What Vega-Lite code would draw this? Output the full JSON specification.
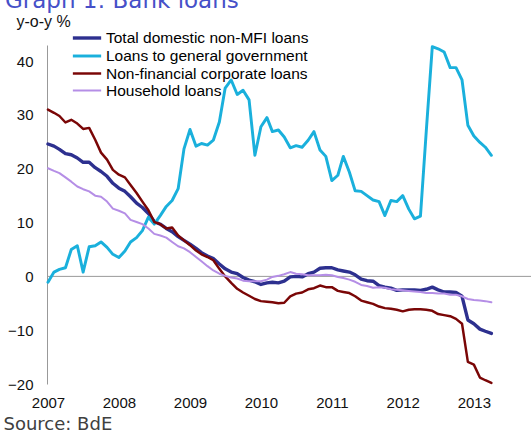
{
  "$schema": "https://vega.github.io/schema/vega-lite/v6.json",
  "width": 484,
  "height": 339,
  "autosize": "none",
  "padding": {"left": 47, "top": 45, "right": 1, "bottom": 49},
  "background": "white",
  "title": {"text": "Graph 1: Bank loans", "anchor": "start", "frame": "group", "dx": -42, "dy": 21, "offset": 3, "baseline": "alphabetic", "fontSize": 23, "font": "DejaVu Sans", "fontWeight": "normal", "color": "#4650C8"},
  "config": {"view": {"stroke": null}},
  "layer": [
    {
      "data": {"values": [{"z": 0}]},
      "mark": {"type": "rule", "color": "#999999", "strokeWidth": 1},
      "encoding": {"y": {"field": "z", "type": "quantitative", "scale": {"domain": [-20, 43], "nice": false}}}
    },
    {
      "data": {"values": [
        {"d":"2007-01-01","tot":24.6,"gov":-1.1,"nfc":31.0,"hh":20.1},
        {"d":"2007-02-01","tot":24.2,"gov":0.8,"nfc":30.4,"hh":19.6},
        {"d":"2007-03-01","tot":23.6,"gov":1.3,"nfc":29.8,"hh":19.2},
        {"d":"2007-04-01","tot":22.8,"gov":1.6,"nfc":28.6,"hh":18.4},
        {"d":"2007-05-01","tot":22.6,"gov":5.0,"nfc":29.1,"hh":17.6},
        {"d":"2007-06-01","tot":22.0,"gov":5.7,"nfc":28.4,"hh":16.7},
        {"d":"2007-07-01","tot":21.2,"gov":0.8,"nfc":27.4,"hh":16.2},
        {"d":"2007-08-01","tot":21.2,"gov":5.5,"nfc":27.6,"hh":15.8},
        {"d":"2007-09-01","tot":20.2,"gov":5.7,"nfc":25.4,"hh":15.0},
        {"d":"2007-10-01","tot":19.5,"gov":6.4,"nfc":23.0,"hh":14.8},
        {"d":"2007-11-01","tot":18.6,"gov":5.4,"nfc":21.7,"hh":13.9},
        {"d":"2007-12-01","tot":17.3,"gov":4.1,"nfc":19.8,"hh":12.6},
        {"d":"2008-01-01","tot":16.4,"gov":3.5,"nfc":18.9,"hh":12.2},
        {"d":"2008-02-01","tot":15.8,"gov":4.7,"nfc":18.4,"hh":11.7},
        {"d":"2008-03-01","tot":14.8,"gov":6.4,"nfc":17.0,"hh":10.5},
        {"d":"2008-04-01","tot":13.6,"gov":7.2,"nfc":15.5,"hh":10.1},
        {"d":"2008-05-01","tot":12.8,"gov":8.5,"nfc":13.9,"hh":9.7},
        {"d":"2008-06-01","tot":11.7,"gov":11.0,"nfc":12.3,"hh":8.9},
        {"d":"2008-07-01","tot":10.2,"gov":9.7,"nfc":10.1,"hh":7.9},
        {"d":"2008-08-01","tot":9.7,"gov":11.3,"nfc":9.7,"hh":7.6},
        {"d":"2008-09-01","tot":8.9,"gov":13.0,"nfc":8.9,"hh":7.2},
        {"d":"2008-10-01","tot":8.3,"gov":14.1,"nfc":9.1,"hh":6.4},
        {"d":"2008-11-01","tot":7.4,"gov":16.3,"nfc":7.6,"hh":5.6},
        {"d":"2008-12-01","tot":6.7,"gov":23.7,"nfc":6.7,"hh":5.2},
        {"d":"2009-01-01","tot":6.0,"gov":27.3,"nfc":5.8,"hh":4.5},
        {"d":"2009-02-01","tot":5.2,"gov":24.2,"nfc":4.8,"hh":3.6},
        {"d":"2009-03-01","tot":4.4,"gov":24.7,"nfc":4.1,"hh":2.8},
        {"d":"2009-04-01","tot":3.8,"gov":24.4,"nfc":3.6,"hh":1.9},
        {"d":"2009-05-01","tot":3.3,"gov":25.3,"nfc":3.0,"hh":1.1},
        {"d":"2009-06-01","tot":2.3,"gov":28.7,"nfc":1.4,"hh":0.5},
        {"d":"2009-07-01","tot":1.4,"gov":35.0,"nfc":0.0,"hh":0.1},
        {"d":"2009-08-01","tot":0.8,"gov":36.5,"nfc":-1.2,"hh":-0.2},
        {"d":"2009-09-01","tot":0.5,"gov":33.8,"nfc":-2.3,"hh":-0.4},
        {"d":"2009-10-01","tot":-0.2,"gov":34.6,"nfc":-3.0,"hh":-0.8},
        {"d":"2009-11-01","tot":-0.7,"gov":32.8,"nfc":-3.6,"hh":-0.9},
        {"d":"2009-12-01","tot":-1.0,"gov":22.5,"nfc":-4.2,"hh":-0.9},
        {"d":"2010-01-01","tot":-1.5,"gov":27.8,"nfc":-4.6,"hh":-0.9},
        {"d":"2010-02-01","tot":-1.2,"gov":29.5,"nfc":-4.7,"hh":-0.6},
        {"d":"2010-03-01","tot":-1.1,"gov":26.9,"nfc":-4.8,"hh":-0.1},
        {"d":"2010-04-01","tot":-1.2,"gov":27.2,"nfc":-5.0,"hh":0.1},
        {"d":"2010-05-01","tot":-0.9,"gov":25.9,"nfc":-4.9,"hh":0.4},
        {"d":"2010-06-01","tot":-0.1,"gov":23.9,"nfc":-3.7,"hh":0.8},
        {"d":"2010-07-01","tot":0.0,"gov":24.3,"nfc":-3.2,"hh":0.5},
        {"d":"2010-08-01","tot":-0.1,"gov":24.0,"nfc":-3.0,"hh":0.4},
        {"d":"2010-09-01","tot":0.5,"gov":25.3,"nfc":-2.4,"hh":0.2},
        {"d":"2010-10-01","tot":0.8,"gov":26.9,"nfc":-2.2,"hh":0.2},
        {"d":"2010-11-01","tot":1.5,"gov":23.5,"nfc":-1.7,"hh":0.2},
        {"d":"2010-12-01","tot":1.6,"gov":22.3,"nfc":-2.0,"hh":0.3},
        {"d":"2011-01-01","tot":1.6,"gov":17.8,"nfc":-2.0,"hh":0.2},
        {"d":"2011-02-01","tot":1.2,"gov":18.8,"nfc":-2.7,"hh":-0.1},
        {"d":"2011-03-01","tot":1.0,"gov":22.3,"nfc":-2.9,"hh":-0.3},
        {"d":"2011-04-01","tot":0.8,"gov":19.4,"nfc":-3.1,"hh":-0.6},
        {"d":"2011-05-01","tot":0.3,"gov":15.9,"nfc":-3.7,"hh":-1.0},
        {"d":"2011-06-01","tot":-0.5,"gov":15.8,"nfc":-4.5,"hh":-1.6},
        {"d":"2011-07-01","tot":-0.8,"gov":15.0,"nfc":-4.8,"hh":-1.8},
        {"d":"2011-08-01","tot":-0.9,"gov":14.2,"nfc":-5.1,"hh":-2.1},
        {"d":"2011-09-01","tot":-1.7,"gov":13.9,"nfc":-5.6,"hh":-2.0},
        {"d":"2011-10-01","tot":-2.0,"gov":11.3,"nfc":-5.9,"hh":-2.1},
        {"d":"2011-11-01","tot":-2.2,"gov":14.1,"nfc":-6.0,"hh":-2.4},
        {"d":"2011-12-01","tot":-2.6,"gov":13.9,"nfc":-6.2,"hh":-2.5},
        {"d":"2012-01-01","tot":-2.5,"gov":15.0,"nfc":-6.5,"hh":-2.6},
        {"d":"2012-02-01","tot":-2.5,"gov":12.5,"nfc":-6.2,"hh":-2.7},
        {"d":"2012-03-01","tot":-2.5,"gov":10.7,"nfc":-6.1,"hh":-2.8},
        {"d":"2012-04-01","tot":-2.6,"gov":11.2,"nfc":-6.1,"hh":-2.9},
        {"d":"2012-05-01","tot":-2.4,"gov":27.0,"nfc":-6.2,"hh":-3.1},
        {"d":"2012-06-01","tot":-2.0,"gov":42.7,"nfc":-6.4,"hh":-3.1},
        {"d":"2012-07-01","tot":-2.5,"gov":42.3,"nfc":-7.0,"hh":-3.2},
        {"d":"2012-08-01","tot":-2.9,"gov":41.7,"nfc":-7.2,"hh":-3.2},
        {"d":"2012-09-01","tot":-2.9,"gov":38.8,"nfc":-7.4,"hh":-3.4},
        {"d":"2012-10-01","tot":-3.0,"gov":38.8,"nfc":-7.9,"hh":-3.4},
        {"d":"2012-11-01","tot":-3.7,"gov":36.5,"nfc":-8.8,"hh":-3.7},
        {"d":"2012-12-01","tot":-8.1,"gov":28.1,"nfc":-15.9,"hh":-4.2},
        {"d":"2013-01-01","tot":-8.8,"gov":26.1,"nfc":-16.4,"hh":-4.4},
        {"d":"2013-02-01","tot":-9.8,"gov":24.9,"nfc":-18.8,"hh":-4.5},
        {"d":"2013-03-01","tot":-10.2,"gov":24.0,"nfc":-19.3,"hh":-4.6},
        {"d":"2013-04-01","tot":-10.6,"gov":22.5,"nfc":-19.8,"hh":-4.8}
      ]},
      "transform": [{"fold": ["tot", "gov", "nfc", "hh"], "as": ["s", "v"]}],
      "mark": {"type": "line", "strokeJoin": "round", "strokeCap": "round"},
      "encoding": {
        "x": {
          "field": "d", "type": "temporal",
          "scale": {"domain": ["2006-12-27", "2013-10-22"]},
          "axis": {
            "values": [{"year": 2007, "month": 1, "date": 1}, {"year": 2008, "month": 1, "date": 1}, {"year": 2009, "month": 1, "date": 1}, {"year": 2010, "month": 1, "date": 1}, {"year": 2011, "month": 1, "date": 1}, {"year": 2012, "month": 1, "date": 1}, {"year": 2013, "month": 1, "date": 1}],
            "format": "%Y", "grid": false, "ticks": false, "domain": false,
            "labelFlush": false, "labelOverlap": false, "labelPadding": 11,
            "labelFont": "Liberation Sans", "labelFontSize": 15, "labelColor": "#111111",
            "title": "Source: BdE", "titleX": -44, "titleY": 40, "titleAlign": "left", "titleBaseline": "middle", "titleAnchor": null,
            "titleFont": "DejaVu Sans", "titleFontSize": 18, "titleFontWeight": "normal", "titleColor": "#404040"
          }
        },
        "y": {
          "field": "v", "type": "quantitative",
          "scale": {"domain": [-20, 43], "nice": false},
          "axis": {
            "values": [-20, -10, 0, 10, 20, 30, 40], "grid": false, "ticks": false,
            "domain": true, "domainColor": "#999999", "domainWidth": 1,
            "labelPadding": 14, "labelFont": "Liberation Sans", "labelFontSize": 15, "labelColor": "#111111",
            "title": "y-o-y %", "titleAngle": 0, "titleX": -31, "titleY": -24, "titleAlign": "left", "titleBaseline": "middle",
            "titleFont": "Liberation Sans", "titleFontSize": 16, "titleFontWeight": "normal", "titleColor": "#111111"
          }
        },
        "color": {
          "field": "s", "type": "nominal",
          "scale": {"domain": ["tot", "gov", "nfc", "hh"], "range": ["#2D308F", "#1AB0DC", "#7A0606", "#B58EE6"]},
          "legend": {
            "orient": "none", "legendX": 31, "legendY": -16, "title": null,
            "symbolType": "M-2,0H2", "symbolSize": 200, "symbolStrokeWidth": 2.5, "symbolFillColor": "transparent",
            "labelFont": "Liberation Sans", "labelFontSize": 15.5, "labelColor": "#000000", "labelOffset": 10,
            "rowPadding": 0, "labelLimit": 400,
            "labelExpr": "{'tot':'Total domestic non-MFI loans','gov':'Loans to general government','nfc':'Non-financial corporate loans','hh':'Household loans'}[datum.label]"
          }
        },
        "strokeWidth": {
          "field": "s", "type": "nominal",
          "scale": {"domain": ["tot", "gov", "nfc", "hh"], "range": [3.4, 2, 2, 2]},
          "legend": null
        }
      }
    }
  ]
}
